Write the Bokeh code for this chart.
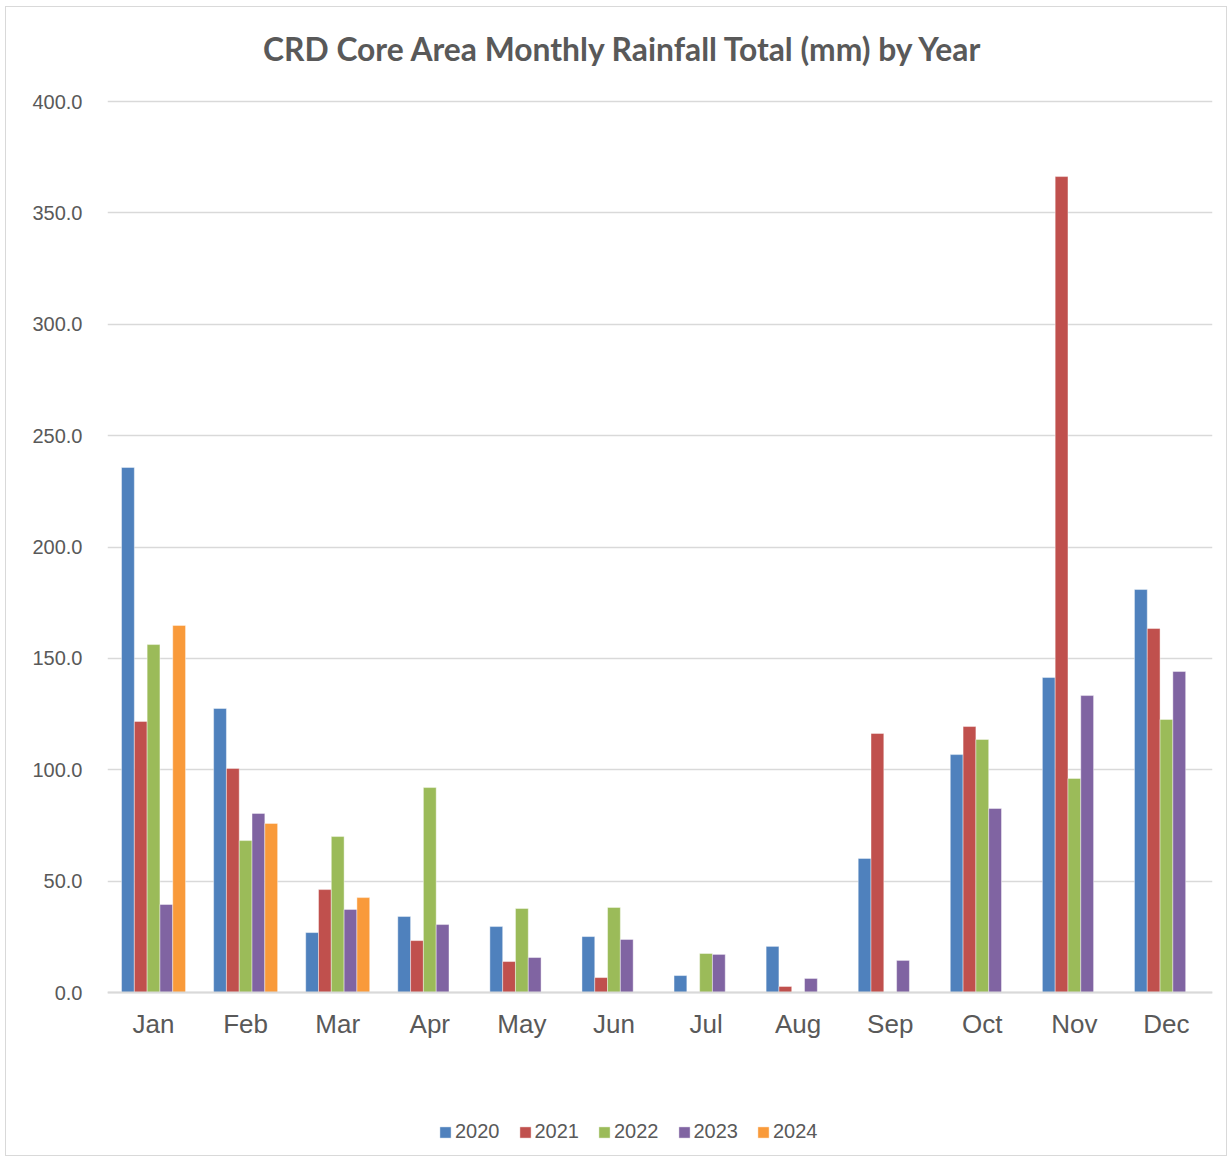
from bokeh.plotting import figure
from bokeh.models import (ColumnDataSource, FactorRange, Range1d, Legend, LegendItem,
                          NumeralTickFormatter, FixedTicker, Span)
from bokeh.core.properties import value
from bokeh.transform import dodge
from bokeh.embed import file_html
from bokeh.resources import INLINE

nan = float("nan")

months = ["Jan", "Feb", "Mar", "Apr", "May", "Jun", "Jul", "Aug", "Sep", "Oct", "Nov", "Dec"]
years = ["2020", "2021", "2022", "2023", "2024"]

y2020 = [235.7, 127.5, 26.9, 34.1, 29.6, 25.1, 7.6, 20.7, 60.2, 106.8, 141.4, 180.9]
y2021 = [121.7, 100.6, 46.2, 23.3, 13.9, 6.7, 0.0, 2.7, 116.3, 119.4, 366.3, 163.4]
y2022 = [156.2, 68.2, 70.0, 92.0, 37.7, 38.2, 17.5, 0.0, 0.0, 113.6, 96.1, 122.6]
y2023 = [39.5, 80.4, 37.3, 30.5, 15.7, 23.8, 17.1, 6.3, 14.4, 82.6, 133.3, 144.1]
y2024 = [164.8, 75.9, 42.6, nan, nan, nan, nan, nan, nan, nan, nan, nan]

y_ticks = [0, 50, 100, 150, 200, 250, 300, 350, 400]
title_text = "CRD Core Area Monthly Rainfall Total (mm) by Year"

colors = ["#4F81BD", "#C0504D", "#9BBB59", "#8064A2", "#F99A3A"]
series = [y2020, y2021, y2022, y2023, y2024]

# layout (pixels)
W, H = 1222, 1150
TOP_PX = 94                # canvas pixels above the 400 gridline
AXIS_PX = 891              # pixels from 0 to 400
ppu = AXIS_PX / 400.0
y_max = 400 + TOP_PX / ppu
y_min = 400 - (H - TOP_PX) / ppu
label_y = -31 / ppu
title_y = 400 + 53 / ppu
title_x = 5.61             # synthetic categorical coordinate of the title centre

source = ColumnDataSource(data=dict(month=months, **{y: s for y, s in zip(years, series)}))

p = figure(x_range=FactorRange(factors=months, range_padding=0), y_range=Range1d(y_min, y_max),
           width=W, height=H, output_backend="svg", toolbar_location=None,
           x_axis_location=None,
           min_border_left=101, min_border_right=16, min_border_top=0, min_border_bottom=0)

bar_w = 0.139
offsets = [-2 * bar_w, -bar_w, 0.0, bar_w, 2 * bar_w]
items = []
for yr, c, off in zip(years, colors, offsets):
    r = p.vbar(x=dodge("month", off, range=p.x_range), top=yr, width=bar_w, source=source,
               fill_color=c, line_color="white", line_width=0.6, line_alpha=0.7)
    items.append(LegendItem(label=yr, renderers=[r]))

# title
p.text(x=[title_x], y=[title_y], text=[title_text], text_align="center",
       text_baseline="middle", text_font=value("Lato"), text_font_style="bold",
       text_font_size="31.8px", text_color="#595959")

# month labels under the baseline
p.text(x=months, y=[label_y] * len(months), text=months, text_align="center",
       text_baseline="middle", text_font=value("Liberation Sans"), text_font_size="26px",
       text_color="#595959")

p.add_layout(Span(location=0, dimension="width", line_color="#d9d9d9", line_width=2))

legend = Legend(items=items, orientation="horizontal", location=(331, 14),
                label_text_font="Liberation Sans", label_text_font_size="20px",
                label_text_color="#595959", glyph_width=14, glyph_height=14,
                spacing=18, label_standoff=3, border_line_color=None, margin=0,
                padding=0, background_fill_alpha=0, label_height=20)
p.add_layout(legend, "center")

p.yaxis.ticker = FixedTicker(ticks=y_ticks)
p.yaxis.formatter = NumeralTickFormatter(format="0.0")
p.yaxis.axis_line_color = None
p.yaxis.major_tick_line_color = None
p.yaxis.minor_tick_line_color = None
p.yaxis.major_tick_out = 0
p.yaxis.major_label_standoff = 25
p.yaxis.major_label_text_font = "Liberation Sans"
p.yaxis.major_label_text_font_size = "20px"
p.yaxis.major_label_text_color = "#595959"

p.ygrid.ticker = FixedTicker(ticks=y_ticks)
p.xgrid.grid_line_color = None
p.ygrid.grid_line_color = "#d9d9d9"
p.ygrid.grid_line_width = 1.5
p.outline_line_color = None
p.background_fill_color = "white"
p.border_fill_color = "white"
p.styles = {"border": "1px solid #d9d9d9", "margin-left": "5px", "margin-top": "6px"}

open("out.html", "w").write(file_html(p, INLINE))
